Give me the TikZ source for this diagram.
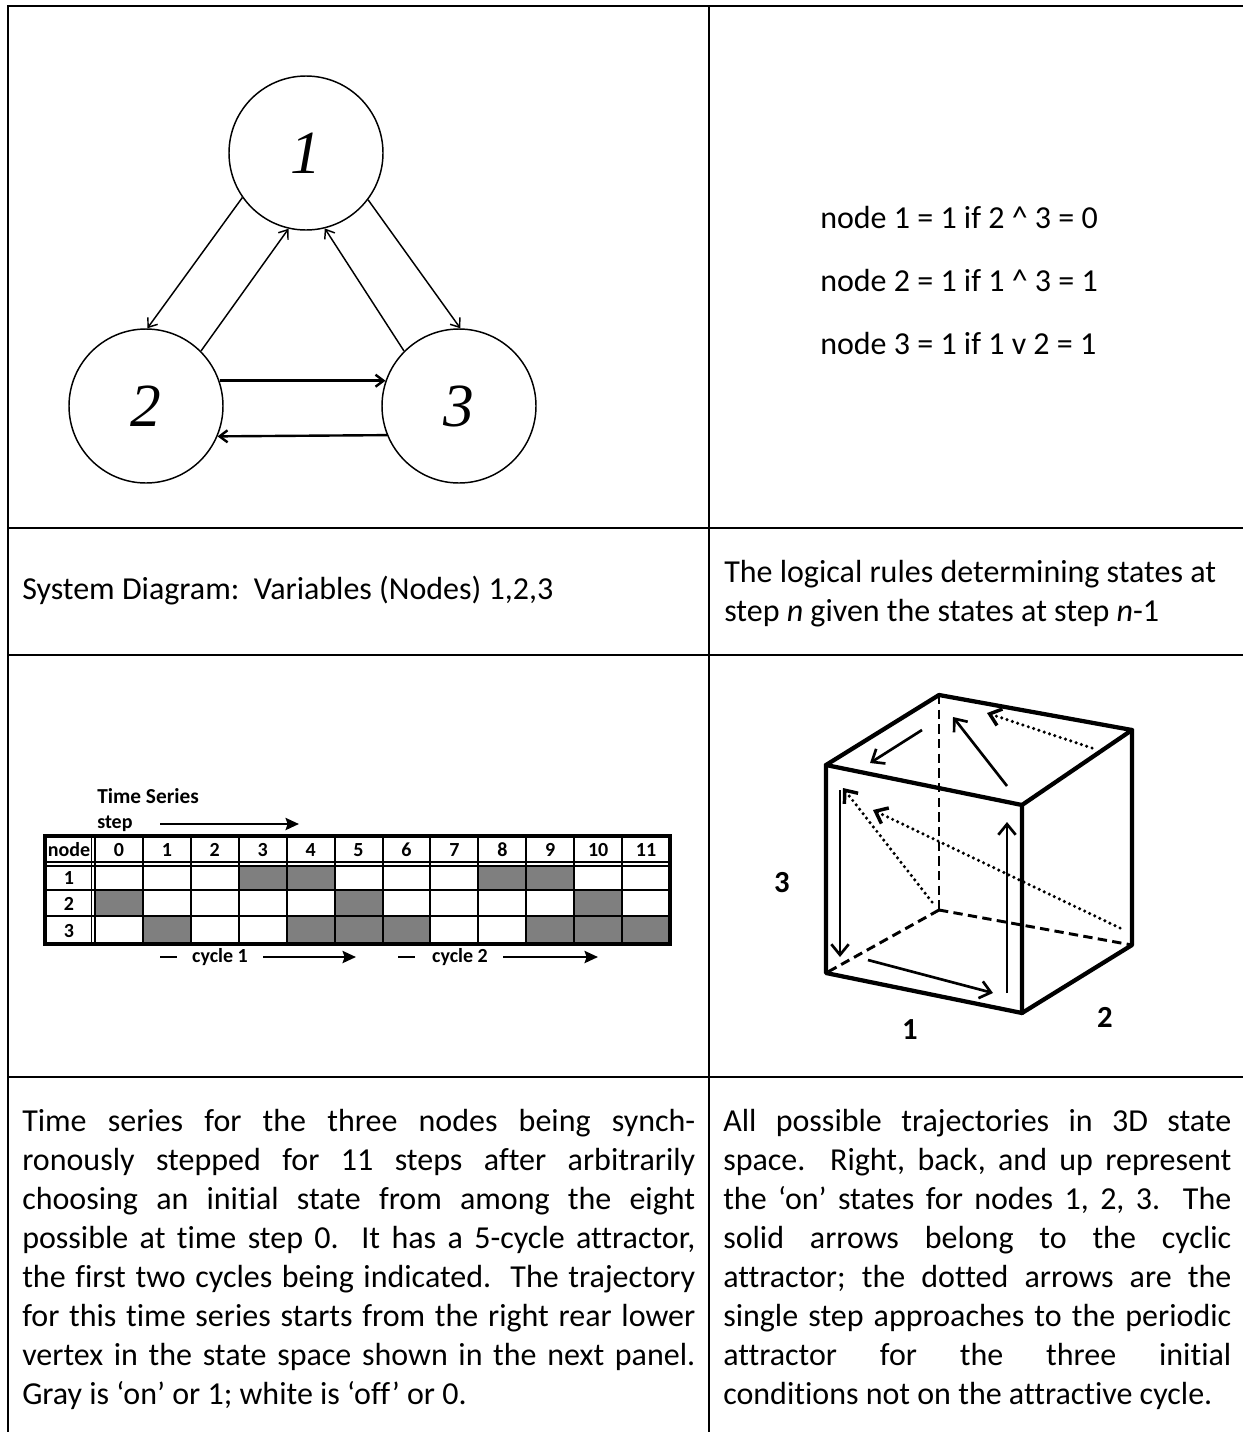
\documentclass[tikz,border=0pt]{standalone}
\usepackage{fontspec}
\setmainfont{Carlito}[Ligatures=NoCommon]
\newfontfamily\numserif{Liberation Serif}
\usetikzlibrary{arrows.meta}
\definecolor{cellgray}{RGB}{127,127,127}
% one justified line of a caption, left and right column
\newcommand{\jlL}[1]{\hbox to 504.75pt{#1}}
\newcommand{\jlR}[1]{\hbox to 381pt{#1}}
\newcommand{\wordspacing}{\frenchspacing\spaceskip=0.226em plus 0.6em minus 0.05em\relax}
\tikzset{
  frame/.style={line width=1.5pt},
  rulethin/.style={line width=1.1pt},
  state/.style={circle, draw, line width=1.1pt, minimum size=115.5pt, inner sep=0pt,
    font=\numserif\itshape\fontsize{46}{50}\selectfont},
  gedge/.style={line width=1.1pt, -{Straight Barb[length=6pt,width=9pt]}},
  hedge/.style={line width=1.8pt, -{Straight Barb[length=6pt,width=9pt]}},
  body/.style={inner sep=0pt, font=\fontsize{24}{29.25}\selectfont},
  tsfont/.style={inner sep=0pt, font=\bfseries\fontsize{15}{18}\selectfont},
  grid/.style={line width=1.5pt},
  dbl/.style={line width=1pt},
  tsarrow/.style={line width=2.2pt, -{Stealth[length=10pt,width=9pt,inset=1.5pt]}},
  tsbar/.style={line width=2.2pt},
  edge/.style={line width=3.2pt, line cap=round, line join=round},
  hidden/.style={line width=2.2pt, dash pattern=on 7pt off 4pt},
  cyc/.style={line width=2pt, -{Straight Barb[length=8pt,width=13pt]}},
  appr/.style={line width=2.6pt, line cap=round, dash pattern=on 0pt off 4.2pt,
    -{Straight Barb[length=8pt,width=13pt,line cap=butt]}},
  axis/.style={inner sep=0pt, font=\bfseries\fontsize{23}{26}\selectfont}
}
\begin{document}
\begin{tikzpicture}[x=0.75pt,y=-0.75pt]
\useasboundingbox (0,0) rectangle (1243,1432);

% ---- panel frame ----
\draw[frame] (7,6) -- (1243,6);
\draw[frame] (8,5) -- (8,1432);
\draw[line width=1.9pt] (709,5) -- (709,1432);
\draw[rulethin] (8,528) -- (1243,528);
\draw[frame] (8,528) -- (22,528);
\draw[frame] (573,528) -- (1243,528);
\draw[frame] (8,655) -- (1243,655);
\draw[frame] (8,1077) -- (1243,1077);

% ---- system diagram ----
\node[state] (n1) at (306,153) {1};
\node[state] (n2) at (146,406) {2};
\node[state] (n3) at (459,406) {3};
\draw[gedge] (n1.215) -- (n2.89);
\draw[gedge] (n2.45) -- (n1.257);
\draw[gedge] (n3.135) -- (n1.284);
\draw[gedge] (n1.323) -- (n3.89);
\draw[hedge] (n2.19) -- (n3.161);
\draw[hedge] (n3.202.5) -- (n2.337.5);

% ---- logical rules ----
\node[body, anchor=base west] (r1) at (820,228) {node 1 = 1 if 2 \^{} 3 = 0};
\node[body, anchor=base west] (r2) at (820,291) {node 2 = 1 if 1 \^{} 3 = 1};
\node[body, anchor=base west] (r3) at (820,354) {node 3 = 1 if 1 v 2 = 1};

% ---- captions, middle row ----
\node[body, anchor=base west] (capA) at (22,599) {System Diagram:\ \ Variables (Nodes) 1,2,3};
\node[body, anchor=base west, text width=381pt] (capB) at (724,582)
  {\wordspacing
   \hbox{The logical rules determining states at}
   \hbox{step \textit{n} given the states at step \textit{n}-1}};

% ---- time series ----
\node[anchor=base west, inner sep=0pt, font=\bfseries\fontsize{16}{19}\selectfont] (tstitle) at (97,803) {Time Series};
\node[tsfont, anchor=base west] (steplbl) at (97,828) {step};
\coordinate (st0) at (160,824);
\coordinate (st1) at (299,824);
\draw[tsarrow] (st0) -- (st1);

% gray (on) cells
\foreach \c in {3,4,8,9}
  \fill[cellgray] ({95+\c*47.92},866) rectangle ({95+(\c+1)*47.92},890);
\foreach \c in {0,5,10}
  \fill[cellgray] ({95+\c*47.92},890) rectangle ({95+(\c+1)*47.92},916);
\foreach \c in {1,4,5,6,9,10,11}
  \fill[cellgray] ({95+\c*47.92},916) rectangle ({95+(\c+1)*47.92},944);
% grid
\foreach \k in {1,...,11}
  \draw[grid] ({95+\k*47.92},836) -- ({95+\k*47.92},944);
\draw[grid] (45,890) -- (670,890);
\draw[grid] (45,916) -- (670,916);
\draw[dbl] (91.5,836) -- (91.5,944);
\draw[dbl] (95,836) -- (95,944);
\draw[dbl] (45,862) -- (670,862);
\draw[dbl] (45,866) -- (670,866);
\draw[line width=2.4pt] (45,836) rectangle (670,944);
% labels
\node[tsfont, anchor=base] (hnode) at (69,856) {node};
\foreach \c in {0,...,11}
  \node[tsfont, anchor=base] (h\c) at ({95+(\c+0.5)*47.92},856) {\c};
\node[tsfont, anchor=base] (row1) at (69,884) {1};
\node[tsfont, anchor=base] (row2) at (69,910) {2};
\node[tsfont, anchor=base] (row3) at (69,937) {3};
% cycles
\coordinate (c1a) at (160,957);
\coordinate (c1b) at (177,957);
\draw[tsbar] (c1a) -- (c1b);
\node[tsfont, anchor=center] (cyc1) at (220,957) {cycle 1};
\coordinate (c1c) at (263,957);
\coordinate (c1d) at (356,957);
\draw[tsarrow] (c1c) -- (c1d);
\coordinate (c2a) at (398,957);
\coordinate (c2b) at (415,957);
\draw[tsbar] (c2a) -- (c2b);
\node[tsfont, anchor=center] (cyc2) at (460,957) {cycle 2};
\coordinate (c2c) at (503,957);
\coordinate (c2d) at (598,957);
\draw[tsarrow] (c2c) -- (c2d);

% ---- state-space cube ----
\coordinate (A) at (939,695);   % top, back, left
\coordinate (B) at (1132,730);  % top, back, right
\coordinate (C) at (826,765);   % top, front, left
\coordinate (D) at (1022,805);  % top, front, right
\coordinate (E) at (826,973);   % bottom, front, left
\coordinate (F) at (1022,1013); % bottom, front, right
\coordinate (G) at (1132,945);  % bottom, back, right
\coordinate (H) at (939,910);   % bottom, back, left (hidden)
\draw[hidden] (A) -- (H);
\draw[hidden] (H) -- (E);
\draw[hidden] (H) -- (G);
\draw[edge] (C) -- (D) -- (F) -- (E) -- cycle;
\draw[edge] (C) -- (A) -- (B) -- (D);
\draw[edge] (B) -- (G) -- (F);
% cyclic attractor
\draw[cyc] (922,730) -- (870,763);
\draw[cyc] (1007,786) -- (953,717);
\draw[cyc] (840,790) -- (840,957);
\draw[cyc] (868,960) -- (993,993);
\draw[cyc] (1007,993) -- (1007,822);
% approaches
\draw[appr] (1092,748) -- (987,713);
\draw[appr] (1120,928) -- (873,810);
\draw[appr] (932,902) -- (843,788);
% axis labels
\node[axis] (ax3) at (782,883) {3};
\node[axis] (ax1) at (910,1030) {1};
\node[axis] (ax2) at (1105,1017) {2};

% ---- captions, bottom row ----
\node[body, anchor=base west, text width=504.75pt] (capC) at (22,1131) {\wordspacing
\jlL{Time series for the three nodes being synch-}
\jlL{ronously stepped for 11 steps after arbitrarily}
\jlL{choosing an initial state from among the eight}
\jlL{possible at time step 0. {} It has a 5-cycle attractor,}
\jlL{the first two cycles being indicated. {} The trajectory}
\jlL{for this time series starts from the right rear lower}
\jlL{vertex in the state space shown in the next panel.}
\hbox{Gray is ‘on’ or 1; white is ‘off’ or 0.}};
\node[body, anchor=base west, text width=381pt] (capD) at (723,1131) {\wordspacing
\jlR{All possible trajectories in 3D state}
\jlR{space. {} Right, back, and up represent}
\jlR{the ‘on’ states for nodes 1, 2, 3. {} The}
\jlR{solid arrows belong to the cyclic}
\jlR{attractor; the dotted arrows are the}
\jlR{single step approaches to the periodic}
\jlR{attractor for the three initial}
\hbox{conditions not on the attractive cycle.}};
\end{tikzpicture}
\end{document}
